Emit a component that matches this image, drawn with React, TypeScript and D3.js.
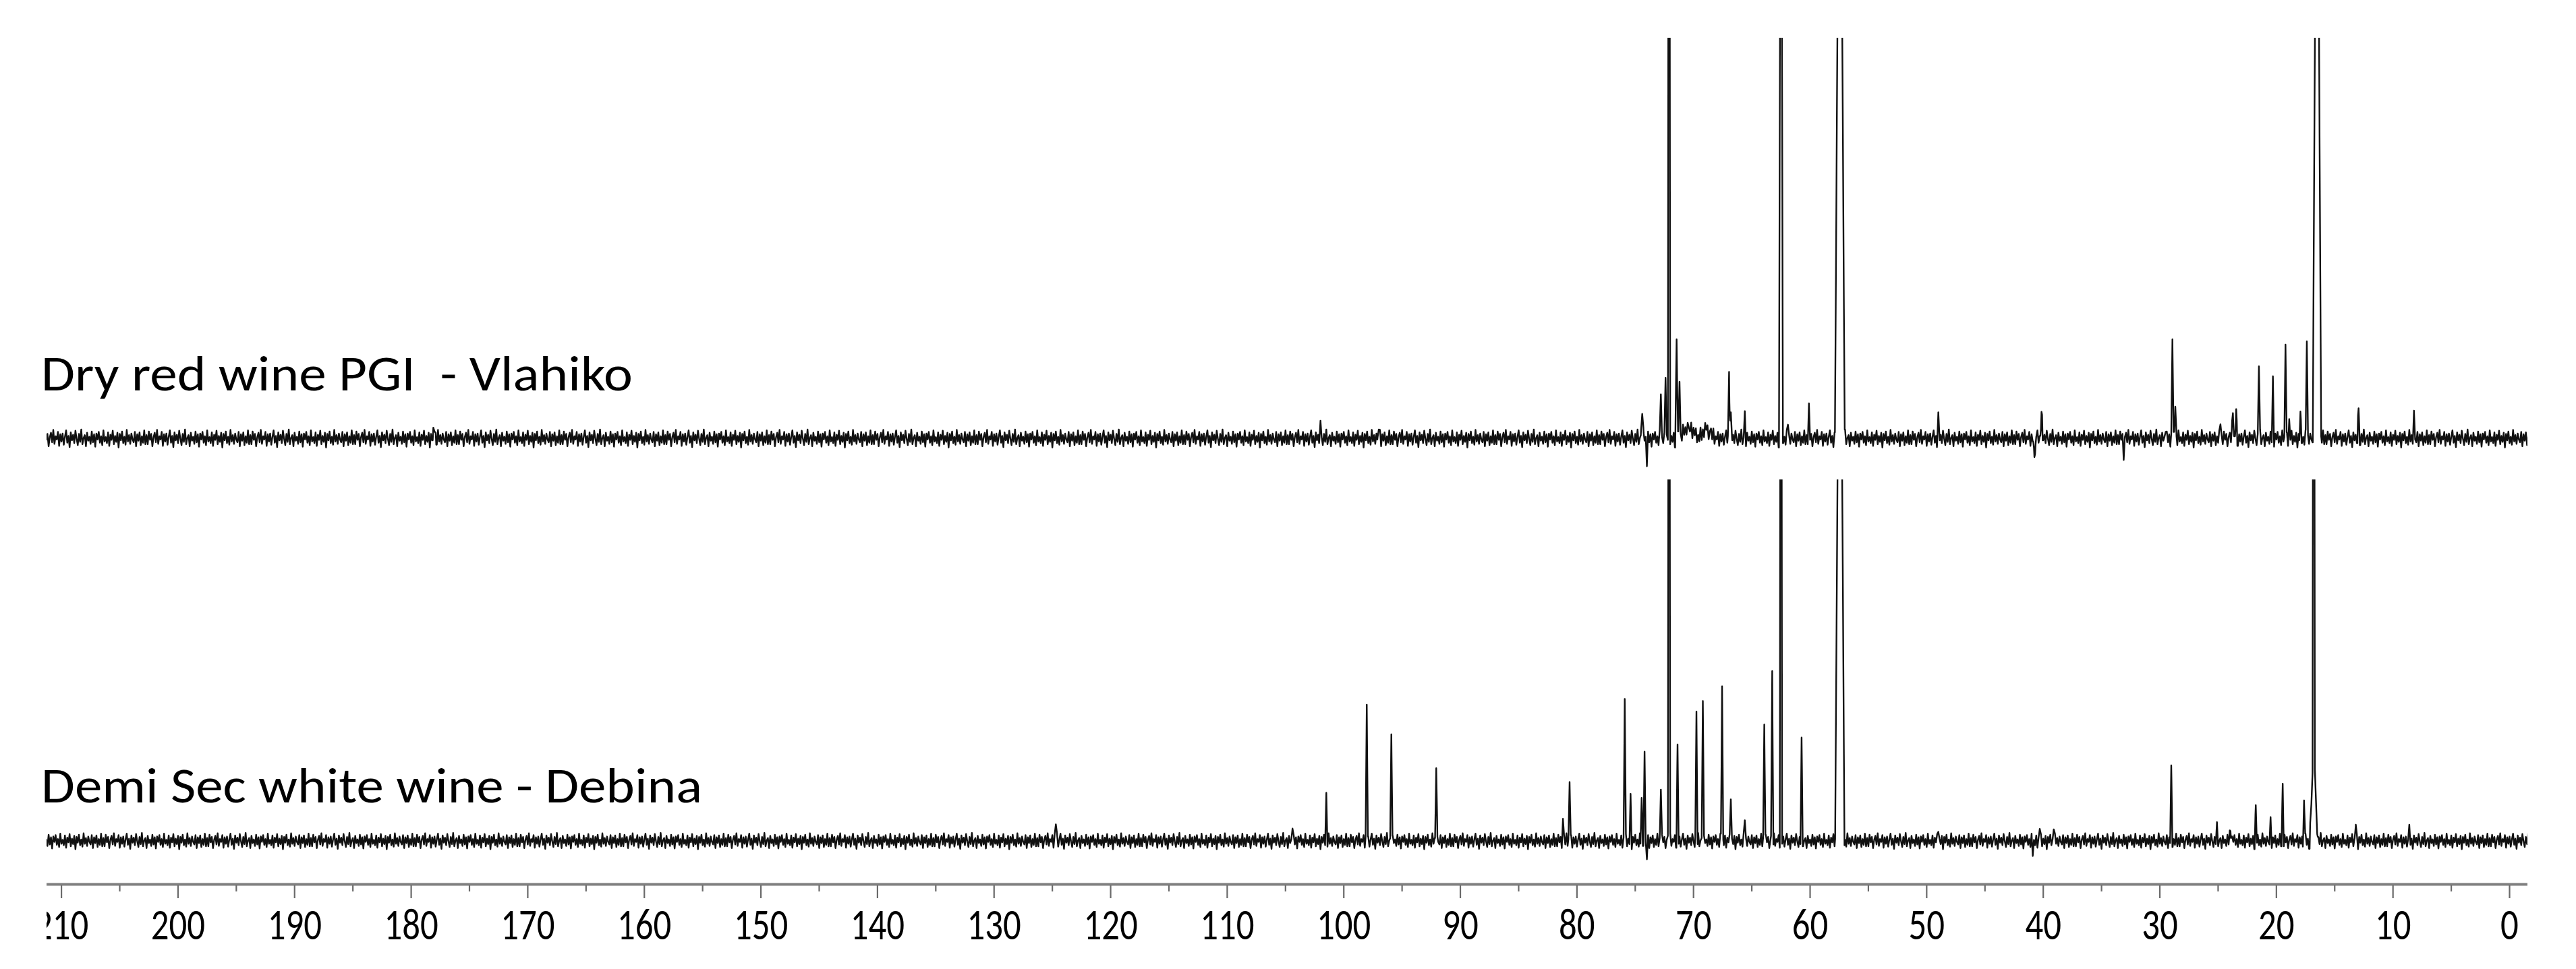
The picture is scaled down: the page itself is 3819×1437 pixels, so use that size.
import React from 'react';
import * as d3 from 'd3';

const W = 3819;
const H = 1437;

// 13C NMR peaks: [ppm, intensity in % of panel height (100 = clipped), half width in ppm]
const vlahikoPeaks: [number, number, number][] = [
  [178.0, 2.9, 0.15], [102.0, 2.5, 0.12], [97.0, 3.2, 0.12],
  [74.4, 8.1, 0.12], [74.0, -5.6, 0.1], [72.8, 11.8, 0.1], [72.4, 17, 0.1],
  [72.1, 300, 0.1], [71.45, 23.6, 0.12], [71.2, 15, 0.1], [70.4, 3, 0.9], [68.9, 2.5, 0.7],
  [66.95, 16, 0.1], [66.8, 5, 0.12], [65.6, 6, 0.1], [62.5, 200, 0.17],
  [61.9, 4.2, 0.1], [60.1, 7, 0.1], [57.45, 200, 0.42], [49.0, 5, 0.12],
  [40.76, -5.9, 0.1], [40.15, 8.8, 0.1], [33.1, -3.4, 0.1], [29.5, 3, 0.1],
  [28.92, 25, 0.1], [28.67, 9, 0.1], [24.8, 5, 0.1], [23.73, 7.7, 0.1],
  [23.45, 5.7, 0.1], [21.5, 18.9, 0.1], [20.3, 14.5, 0.1], [19.22, 24.6, 0.1],
  [18.9, 3.9, 0.1], [17.94, 5, 0.1], [17.39, 25, 0.1], [16.52, 200, 0.36],
  [12.95, 7.6, 0.1], [8.2, 5.7, 0.1],
];

const debinaPeaks: [number, number, number][] = [
  [124.7, 5.4, 0.12], [104.4, 4.8, 0.1], [101.5, 12.9, 0.1], [98.03, 38.5, 0.1],
  [95.92, 31.5, 0.1], [92.07, 21.5, 0.1], [81.2, 5.8, 0.1], [80.63, 16.6, 0.1],
  [75.9, 39.7, 0.1], [75.4, 11.6, 0.1], [74.45, 12.7, 0.1], [74.2, 23.5, 0.1],
  [74.0, -4.1, 0.1], [72.8, 15.7, 0.1], [72.1, 300, 0.1], [71.37, 25.7, 0.1],
  [69.75, 34.7, 0.1], [69.2, 40.7, 0.1], [67.55, 42.5, 0.1], [66.8, 13, 0.1],
  [65.6, 6.5, 0.1], [63.93, 33.7, 0.1], [63.25, 45.6, 0.1], [62.5, 300, 0.1],
  [60.73, 26.4, 0.1], [57.45, 200, 0.4], [49.0, 4, 0.1], [40.9, -3.4, 0.1],
  [40.3, 3.7, 0.1], [39.1, 4.8, 0.1], [29.02, 19.4, 0.1], [25.1, 3, 0.1],
  [23.94, 4.8, 0.1], [21.77, 8.8, 0.1], [20.5, 5, 0.1], [19.46, 15, 0.1],
  [17.63, 10.8, 0.1], [16.8, 300, 0.1], [16.8, 25, 0.35], [13.19, 5.4, 0.1],
  [8.6, 2.5, 0.1],
];

// baseline wiggle (hand typed, % of panel height)
const baselineNoise = [
  0.8, -1.5, 1.7, -0.4, 1.1, -2.0, 0.3, 1.4, -1.0, 2.1, -1.4, 0.5, -0.3, 1.6, -1.9,
  1.0, -0.8, 1.2, -1.6, 0.4, 2.0, -1.1, 0.6, -2.2, 1.5, -0.5, 0.9, -1.2, 1.9, -0.1,
  -1.7, 1.1, -0.9, 2.2, -1.5, 0.1, 0.8, -2.0, 1.4, -0.6, 0.4, -1.4, 1.7, -1.0, 1.0,
  -2.1, 1.2, -0.3, 1.6, -1.1, 0.5, -1.7, 2.0, -0.8, 0.3, -1.2, 1.5, -1.9, 0.9, -0.4,
  1.9, -1.5, 0.6, -0.9, 1.4, -2.3, 1.1, -0.5, 1.7, -1.2, 0.4, -1.6, 2.1, -0.8, 0.8,
  -1.4, 1.2, -0.3, -1.0, 1.6, -2.0, 1.0, -0.6, 1.5, -1.7, 0.5, -1.1, 2.0, -1.5,
];

const majorTicks = [210, 200, 190, 180, 170, 160, 150, 140, 130, 120, 110, 100, 90, 80, 70, 60, 50, 40, 30, 20, 10, 0];
const minorTicks = [205, 195, 185, 175, 165, 155, 145, 135, 125, 115, 105, 95, 85, 75, 65, 55, 45, 35, 25, 15, 5];
const spectrumLabels = ['Dry red wine PGI  - Vlahiko', 'Demi Sec white wine - Debina'];

const FONT = 'Carlito, Lato, "Open Sans", sans-serif';

const plotLeft = 69;
const plotRight = 3747;

const x = d3.scaleLinear().domain([210, 0]).range([91.1, 3720.5]);
const yTop = d3.scaleLinear().domain([0, 100]).range([650, 56]);
const yBottom = d3.scaleLinear().domain([0, 100]).range([1247, 711]);

const STEP = 0.1;
const START = 211.6;

function buildSpectrum(peaks: [number, number, number][], offset: number) {
  const grid = d3.range(START, -1.8, -STEP);
  const ppms = grid.slice();
  peaks.forEach(([c, , hw]) => { ppms.push(c + hw, c, c - hw); });
  ppms.sort((a, b) => b - a);
  const n = baselineNoise.length;
  return ppms.map(p => {
    const i = Math.round((START - p) / STEP);
    let v = baselineNoise[(i + offset) % n];
    peaks.forEach(([c, h, hw]) => {
      const d = Math.abs(p - c);
      if (d < hw) v += h * (1 - d / hw);
    });
    return [p, v] as [number, number];
  });
}

const vlahiko = buildSpectrum(vlahikoPeaks, 0);
const debina = buildSpectrum(debinaPeaks, 37);

export default function App() {
  const lineTop = d3.line<[number, number]>().x(d => x(d[0])).y(d => yTop(d[1]));
  const lineBottom = d3.line<[number, number]>().x(d => x(d[0])).y(d => yBottom(d[1]));

  return (
    <svg width={W} height={H} style={{ position: 'absolute', left: 0, top: 0, background: '#fff' }}>
      <defs>
        <clipPath id="clipTop">
          <rect x={plotLeft} y={yTop(100)} width={plotRight - plotLeft} height={700} />
        </clipPath>
        <clipPath id="clipBottom">
          <rect x={plotLeft} y={yBottom(100)} width={plotRight - plotLeft} height={600} />
        </clipPath>
        <clipPath id="clipAxis">
          <rect x={plotLeft} y={1280} width={plotRight - plotLeft + 60} height={157} />
        </clipPath>
      </defs>
      <rect width={W} height={H} fill="#fff" />

      <path d={lineTop(vlahiko) || ''} fill="none" stroke="#111" strokeWidth={2.4}
        strokeLinejoin="round" clipPath="url(#clipTop)" />
      <path d={lineBottom(debina) || ''} fill="none" stroke="#111" strokeWidth={2.4}
        strokeLinejoin="round" clipPath="url(#clipBottom)" />

      <text x={61} y={579} fontFamily={FONT} fontSize={74} fill="#000"
        textLength={877} lengthAdjust="spacingAndGlyphs" style={{ whiteSpace: 'pre' }}>
        {spectrumLabels[0]}
      </text>
      <text x={61} y={1190} fontFamily={FONT} fontSize={74} fill="#000"
        textLength={980} lengthAdjust="spacingAndGlyphs" style={{ whiteSpace: 'pre' }}>
        {spectrumLabels[1]}
      </text>

      <g clipPath="url(#clipAxis)">
        <line x1={plotLeft} x2={plotRight} y1={1311.5} y2={1311.5} stroke="#7f7f7f" strokeWidth={4} />
        {majorTicks.map(t => (
          <line key={'M' + t} x1={x(t)} x2={x(t)} y1={1313} y2={1332} stroke="#6a6a6a" strokeWidth={2.2} />
        ))}
        {minorTicks.map(t => (
          <line key={'m' + t} x1={x(t)} x2={x(t)} y1={1313} y2={1322} stroke="#6a6a6a" strokeWidth={2.2} />
        ))}
        {majorTicks.map(t => (
          <text key={'t' + t} transform={`translate(${x(t)},1393) scale(0.8,1)`} textAnchor="middle"
            fontFamily={FONT} fontSize={66} fill="#000">{t}</text>
        ))}
      </g>
    </svg>
  );
}
